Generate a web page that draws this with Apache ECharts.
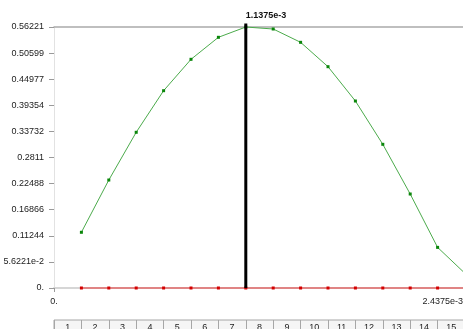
<!DOCTYPE html>
<html>
<head>
<meta charset="utf-8">
<script src="https://cdn.jsdelivr.net/npm/echarts@6/dist/echarts.min.js"></script>
<style>
  html, body { margin: 0; padding: 0; background: #fff; overflow: hidden; }
  #chart { width: 463px; height: 329px; }
</style>
</head>
<body>
<div id="chart"></div>
<script>
// Sample positions (step index 1..15) and their x coordinates
const steps = ['1','2','3','4','5','6','7','8','9','10','11','12','13','14','15'];
const xStep = 1.625e-4;
const xMax = 2.4375e-3;

// Response curve (green) and baseline (red)
const responseValues = [0.120, 0.2326, 0.3354, 0.4250, 0.4926, 0.5400, 0.56221, 0.5579,
                        0.5292, 0.4767, 0.4028, 0.3095, 0.2025, 0.0875, 0.0315];
const baselineValues = [0, 0, 0, 0, 0, 0, 0, 0, 0, 0, 0, 0, 0, 0, 0];

// Y axis range and tick labels
const yMax = 0.56221;
const yInterval = 0.056221;
const yTickLabels = ['0.', '5.6221e-2', '0.11244', '0.16866', '0.22488', '0.2811',
                     '0.33732', '0.39354', '0.44977', '0.50599', '0.56221'];
const xTickLabels = ['0.', '2.4375e-3'];

const xs = steps.map((s, i) => (i + 1) * xStep);
const greenData = xs.map((x, i) => [x, responseValues[i]]);
const redData = xs.map((x, i) => [x, baselineValues[i]]);

// Peak marker position
let peakIdx = 0;
responseValues.forEach((v, i) => { if (v > responseValues[peakIdx]) peakIdx = i; });
const peakX = xs[peakIdx];
const peakLabel = peakX.toExponential();

const font = 'Liberation Sans';

// The plot area runs slightly past the right edge of the window
const chart = echarts.init(document.getElementById('chart'), null, { renderer: 'canvas' });
chart.setOption({
  animation: false,
  backgroundColor: '#ffffff',
  textStyle: { fontFamily: font },
  grid: [
    { left: 54, top: 27, width: 411, height: 261, outerBoundsMode: 'none', containLabel: false },
    { left: 54, top: 320, width: 411, height: 24, outerBoundsMode: 'none', containLabel: false,
      show: true, backgroundColor: '#f5f5f5', borderColor: '#a6a6a6', borderWidth: 1 }
  ],
  xAxis: [
    {
      type: 'value', gridIndex: 0, min: 0, max: xMax, interval: xStep,
      axisLine: { show: true, lineStyle: { color: '#d6d6d6', width: 2 } },
      axisTick: { show: true, customValues: [0, xMax], length: 4, lineStyle: { color: '#9a9a9a' } },
      splitLine: { show: true, lineStyle: { color: '#e9e9e9', width: 1 } },
      axisLabel: {
        customValues: [0, xMax], margin: 9, fontSize: 9, color: '#222', fontFamily: font,
        alignMaxLabel: 'right', hideOverlap: false,
        formatter: v => (Math.abs(v) < 1e-12 ? xTickLabels[0] : '{r|' + xTickLabels[1] + '}'),
        rich: { r: { fontSize: 9, color: '#222', fontFamily: font, padding: [0, 2, 0, 0] } }
      }
    },
    {
      type: 'value', gridIndex: 0, min: 0, max: xMax, position: 'top',
      axisLine: { show: true, lineStyle: { color: '#aaaaaa', width: 1.5 } },
      axisTick: { show: false }, axisLabel: { show: false }, splitLine: { show: false }
    },
    {
      type: 'category', gridIndex: 1, data: steps, position: 'top', boundaryGap: true,
      axisLine: { show: true, lineStyle: { color: '#a6a6a6' } },
      axisTick: { show: false },
      splitLine: { show: true, interval: 0, lineStyle: { color: '#a6a6a6' } },
      axisLabel: { inside: true, margin: 3, fontSize: 9, color: '#222', fontFamily: font, interval: 0 }
    }
  ],
  yAxis: [
    {
      type: 'value', gridIndex: 0, min: 0, max: yMax, interval: yInterval,
      axisLine: { show: true, lineStyle: { color: '#e2e2e2' } },
      axisTick: { show: true, length: 5, lineStyle: { color: '#9a9a9a' } },
      splitLine: { show: false },
      axisLabel: {
        margin: 10, fontSize: 9, color: '#222', fontFamily: font,
        formatter: v => yTickLabels[Math.round(v / yInterval)]
      }
    },
    { type: 'value', gridIndex: 1, show: false, min: 0, max: 1 }
  ],
  series: [
    {
      name: 'response', type: 'line', xAxisIndex: 0, yAxisIndex: 0, data: greenData,
      symbol: 'rect', symbolSize: 3, showSymbol: true, clip: false,
      lineStyle: { color: '#4cab4c', width: 1 },
      itemStyle: { color: '#0a860a' }, z: 3
    },
    {
      name: 'baseline', type: 'line', xAxisIndex: 0, yAxisIndex: 0, data: redData,
      symbol: 'rect', symbolSize: 3, showSymbol: true, clip: false,
      lineStyle: { color: '#e08484', width: 2 },
      itemStyle: { color: '#d40000' }, z: 3
    },
    {
      name: 'peak', type: 'line', xAxisIndex: 0, yAxisIndex: 0, clip: false,
      data: [[peakX, 0], [peakX, yMax * 1.013]],
      symbol: 'none', silent: true,
      lineStyle: { color: '#000000', width: 3 },
      endLabel: {
        show: true, formatter: () => peakLabel, fontWeight: 'bold', fontSize: 9,
        color: '#111', fontFamily: font, align: 'left', verticalAlign: 'bottom',
        offset: [-8, -4]
      },
      z: 5
    }
  ]
});
</script>
</body>
</html>
